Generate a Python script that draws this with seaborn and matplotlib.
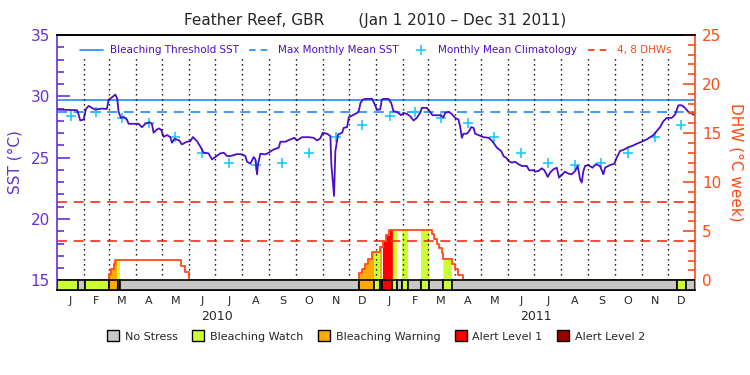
import numpy as np
import pandas as pd
import matplotlib
matplotlib.use("Agg")
import matplotlib.pyplot as plt
from matplotlib.lines import Line2D
from matplotlib.patches import Patch
from matplotlib.ticker import MultipleLocator
import seaborn as sns

# ---- data (days counted from Jan 1 2010) ----
sst_day = [0, 22.9, 24.7, 26.6, 30.5, 33.1, 36.2, 40, 43.8, 51.4, 57.1, 59.1, 62.9, 66.7, 68.9,
           70.5, 73.1, 76.2, 80, 81.9, 93.4, 97.2, 101, 105.6, 108.6, 110.5, 114.3, 117, 119.3,
           121.9, 125.8, 129.6, 131.5, 134.5, 139.9, 142.9, 148.6, 152.4, 155.5, 160.1, 163.9,
           167.7, 173.4, 177.3, 181.1, 186.8, 190.8, 194.6, 198.4, 206, 211.7, 215.5, 217.4,
           221.2, 225.1, 227, 228.9, 230, 232.7, 238.4, 242.2, 247.9, 253.7, 255.6, 261.3, 267,
           271.6, 274.6, 280.3, 288, 293.7, 297.5, 301.3, 304, 309, 312.8, 313.9, 315.5, 317,
           318.5, 321.6, 326.2, 328.1, 331.9, 333.9, 338.4, 343.4, 345.3, 347.2, 349.9, 352.9,
           360.6, 363.6, 366, 369.7, 371.7, 373.6, 379.3, 382.4, 385, 388.8, 393.8, 396.4,
           400.2, 404.1, 407.9, 411.7, 415.5, 417.4, 423.1, 426.9, 429.6, 438.4, 442.2, 444.1,
           447.9, 451.7, 455.5, 459.3, 461.2, 463.2, 465.1, 468.9, 471.6, 473.9, 476.6, 478.5,
           482.3, 488, 493.7, 497.5, 499.4, 503.3, 508.2, 510.9, 514.7, 516.6, 520.4, 524.2,
           528.1, 531.9, 537.6, 540.3, 545.2, 547.1, 550.8, 554.6, 557.7, 561.5, 564.2, 568,
           571.8, 574.5, 577.5, 581.3, 585.1, 589, 592.8, 595.8, 598.5, 600.4, 602.3, 604.2,
           608, 612.6, 616.4, 621.3, 625.2, 627.1, 632.8, 637.8, 640.4, 644.3, 649.2, 653.8,
           657.6, 663.3, 669, 674.8, 678.6, 682.4, 686.2, 690, 693.8, 697.6, 703.4, 707.2, 711,
           714.8, 718.6, 722.4, 727, 730]
sst_val = [28.92, 28.87, 28.51, 28.03, 28.11, 28.97, 29.22, 29.06, 28.92, 29.0, 28.97, 29.73,
           29.92, 30.14, 29.81, 28.73, 28.24, 28.32, 28.11, 27.76, 27.76, 27.48, 27.76, 27.89,
           27.76, 27.03, 27.3, 27.38, 27.25, 26.7, 26.84, 26.68, 26.22, 26.54, 26.4, 26.08,
           26.3, 26.33, 26.68, 26.35, 25.92, 25.4, 25.35, 24.86, 25.05, 25.35, 25.40, 25.13,
           25.13, 25.29, 25.27, 25.13, 24.67, 24.51, 25.05, 24.86, 23.64, 24.46, 25.32, 25.27,
           25.40, 25.67, 25.81, 26.30, 26.30, 26.49, 26.62, 26.40, 26.67, 26.67, 26.62, 26.40,
           26.57, 27.03, 26.95, 26.76, 24.46, 23.10, 21.88, 25.54, 26.89, 27.03, 27.43, 27.49,
           28.30, 28.46, 28.65, 28.79, 29.46, 29.73, 29.79, 29.79, 29.33, 28.92, 28.92, 29.73,
           29.79, 29.79, 29.46, 28.79, 28.73, 28.46, 28.65, 28.57, 28.38, 28.03, 28.24, 28.65,
           29.06, 29.06, 28.73, 28.46, 28.46, 28.30, 28.65, 28.73, 28.57, 28.24, 28.11, 27.57,
           26.62, 26.95, 26.95, 27.16, 27.49, 27.43, 26.95, 26.84, 26.67, 26.62, 26.40, 26.21,
           25.81, 25.54, 25.13, 24.94, 24.73, 24.59, 24.67, 24.46, 24.32, 24.32, 23.97, 23.97,
           23.86, 23.91, 24.13, 23.97, 23.43, 23.78, 24.05, 24.18, 23.37, 23.59, 23.86, 23.70,
           23.64, 23.91, 24.32, 23.24, 22.97, 23.91, 24.32, 24.40, 24.18, 24.46, 24.32, 23.64,
           24.18, 24.40, 24.51, 25.00, 25.54, 25.67, 25.86, 25.94, 26.13, 26.30, 26.49, 26.67,
           26.84, 27.16, 27.49, 27.97, 28.24, 28.24, 28.51, 29.27, 29.27, 29.06, 28.73, 28.57,
           28.46]

clim_val = [28.4, 28.7, 28.25, 27.85, 26.7, 25.4, 24.6, 24.4, 24.6, 25.4, 26.7, 27.7]
bleach_threshold = 29.73
mmm = 28.73
dhw_levels = [4, 8]

dhw_day = [0, 59.1, 62.1, 64.7, 66.7, 142.2, 145.9, 150.5, 346, 348.8, 352.6, 356.4, 360.2,
           369.7, 372.8, 376.6, 380.4, 428.8, 431.5, 434.6, 437.6, 440.3, 442.2, 451.7, 455.5,
           459.3, 465, 730]
dhw_val = [0, 0.6, 1.2, 1.7, 2.05, 1.45, 0.87, 0, 0.77, 1.12, 1.65, 2.16, 2.84, 3.35, 4.02,
           4.6, 5.15, 4.7, 4.26, 3.75, 3.25, 2.74, 2.16, 1.65, 1.12, 0.54, 0, 0]

stress_start = [0, 23.6, 32, 59, 69.3, 72.4, 346, 362.9, 369.7, 372.4, 383.8, 388.8, 395.2,
                402.1, 416.3, 426.1, 442.1, 451.7, 709, 719.7]
stress_end = stress_start[1:] + [730]
stress_level = [1, 0, 1, 2, 1, 0, 2, 1, 2, 3, 1, 0, 1, 0, 1, 0, 1, 0, 1, 0]
stress_names = ["No Stress", "Bleaching Watch", "Bleaching Warning", "Alert Level 1", "Alert Level 2"]
stress_colors = ["#c8c8c8", "#ccff33", "#ffaa00", "#ff0000", "#990000"]

month_letters = ["J", "F", "M", "A", "M", "J", "J", "A", "S", "O", "N", "D"]
years = ["2010", "2011"]

purple = "#6432d2"
sst_color = "#4b0fc8"
blue = "#1a8cff"
cyan = "#1ec8ff"
red = "#ff2a1a"
orange = "#ff4a14"

sns.set_style("white")
plt.rcParams["font.family"] = ["DejaVu Sans"]

fig = plt.figure(figsize=(7.5, 3.75), dpi=100)
ax = fig.add_axes([57 / 750, 85 / 375, 638 / 750, 255 / 375])
ax2 = ax.twinx()

t0 = pd.Timestamp("2010-01-01")
mstarts = pd.date_range("2010-01-01", "2012-01-01", freq="MS")
mdays = np.array((mstarts - t0).days, dtype=float)
mids = (mdays[:-1] + mdays[1:]) / 2
year_mid = [182.5, 547.5]

# SST axis
sst_df = pd.DataFrame({"day": sst_day, "sst": sst_val})
sns.lineplot(data=sst_df, x="day", y="sst", ax=ax, color=sst_color, lw=1.3, zorder=5)
ax.axhline(bleach_threshold, color=blue, lw=1.2, zorder=3)
ax.axhline(mmm, color=blue, lw=1.2, ls=(0, (6, 4)), zorder=3)
clim_df = pd.DataFrame({"day": mids, "sst": clim_val * 2})
sns.scatterplot(data=clim_df, x="day", y="sst", ax=ax, marker="+", s=60, color=cyan,
                linewidth=1.2, zorder=4)

# DHW axis
grid = np.arange(0, 730.001, 0.1)
dhw_grid = np.asarray(dhw_val)[np.searchsorted(dhw_day, grid, side="right") - 1]
lvl_grid = np.asarray(stress_level)[np.searchsorted(stress_start, grid, side="right") - 1]
for k in range(1, 5):
    ax2.fill_between(grid, 0, dhw_grid, where=lvl_grid == k, color=stress_colors[k], lw=0, zorder=1)
ax2.step(dhw_day, dhw_val, where="post", color=orange, lw=1.3, zorder=3)
for lv in dhw_levels:
    ax2.axhline(lv, color=red, lw=1.2, ls=(0, (6, 4)), zorder=2)
ax2.vlines(mdays[1:-1], 0, 23, color="black", lw=1.0, ls=(0, (1, 2.6)), zorder=2)

ybot = -0.9875
widths = [e - s for s, e in zip(stress_start, stress_end)]
ax2.bar(stress_start, [-ybot] * len(widths), width=widths, bottom=ybot, align="edge",
        color=[stress_colors[k] for k in stress_level], edgecolor="black", lw=1.2, zorder=6)

ax.set_xlim(0, 730)
ax.set_ylim(14.21, 35.0)
ax2.set_ylim(ybot, 25.0)

ax.set_xticks(mids)
ax.set_xticklabels(month_letters * 2, fontsize=8)
ax.tick_params(axis="x", length=0, pad=4)
ax.set_xlabel("")
for x, yr in zip(year_mid, years):
    ax.text(x, -0.102, yr, transform=ax.get_xaxis_transform(), ha="center", va="center", fontsize=9)

ax.set_yticks([15, 20, 25, 30, 35])
ax.yaxis.set_minor_locator(MultipleLocator(1))
ax.tick_params(axis="y", which="major", direction="in", length=9, width=1.2, color=purple,
               labelcolor=purple, labelsize=11, left=True, pad=5)
ax.tick_params(axis="y", which="minor", direction="in", length=5, width=1.2, color=purple, left=True)
ax.set_ylabel("SST (°C)", color=purple, fontsize=11, labelpad=6)

ax2.set_yticks([0, 5, 10, 15, 20, 25])
ax2.yaxis.set_minor_locator(MultipleLocator(1))
ax2.tick_params(axis="y", which="major", direction="in", length=9, width=1.2, color=orange,
                labelcolor=orange, labelsize=11, right=True, pad=5)
ax2.tick_params(axis="y", which="minor", direction="in", length=5, width=1.2, color=orange, right=True)
ax2.set_ylabel("DHW (°C week)", color=orange, fontsize=11, rotation=270, va="bottom", labelpad=5)

ax.spines["right"].set_visible(False)
ax2.spines["left"].set_visible(False)
ax.spines["left"].set_color(purple)
ax2.spines["right"].set_color(orange)
for a in (ax, ax2):
    a.spines["top"].set_color("black")
    a.spines["bottom"].set_color("black")
    for s in a.spines.values():
        s.set_linewidth(1.2)

handles = [Line2D([], [], color=blue, lw=1.2),
           Line2D([], [], color=blue, lw=1.2, ls=(0, (4, 3))),
           Line2D([], [], color=cyan, ls="none", marker="+", markersize=7, mew=1.2),
           Line2D([], [], color=red, lw=1.2, ls=(0, (4, 3)))]
labels = ["Bleaching Threshold SST", "Max Monthly Mean SST", "Monthly Mean Climatology", "4, 8 DHWs"]
leg = ax2.legend(handles, labels, ncol=4, loc="center", bbox_to_anchor=(0.5, 0.94),
                 frameon=False, fontsize=7.5, handlelength=2.2, handletextpad=0.6,
                 columnspacing=1.0, borderaxespad=0)
for t, c in zip(leg.get_texts(), [sst_color, sst_color, sst_color, orange]):
    t.set_color(c)

fig.text(0.5, 1 - 20 / 375, "Feather Reef, GBR       (Jan 1 2010 \u2013 Dec 31 2011)",
         ha="center", va="center", fontsize=11)

patches = [Patch(facecolor=c, edgecolor="black", lw=1) for c in stress_colors]
fig.legend(patches, stress_names, ncol=5, loc="center", bbox_to_anchor=(376 / 750, 1 - 336 / 375),
           frameon=False, fontsize=8, handlelength=1.1, handleheight=1.1, handletextpad=0.5,
           columnspacing=1.3, borderaxespad=0)

fig.savefig("out.png", dpi=100)
